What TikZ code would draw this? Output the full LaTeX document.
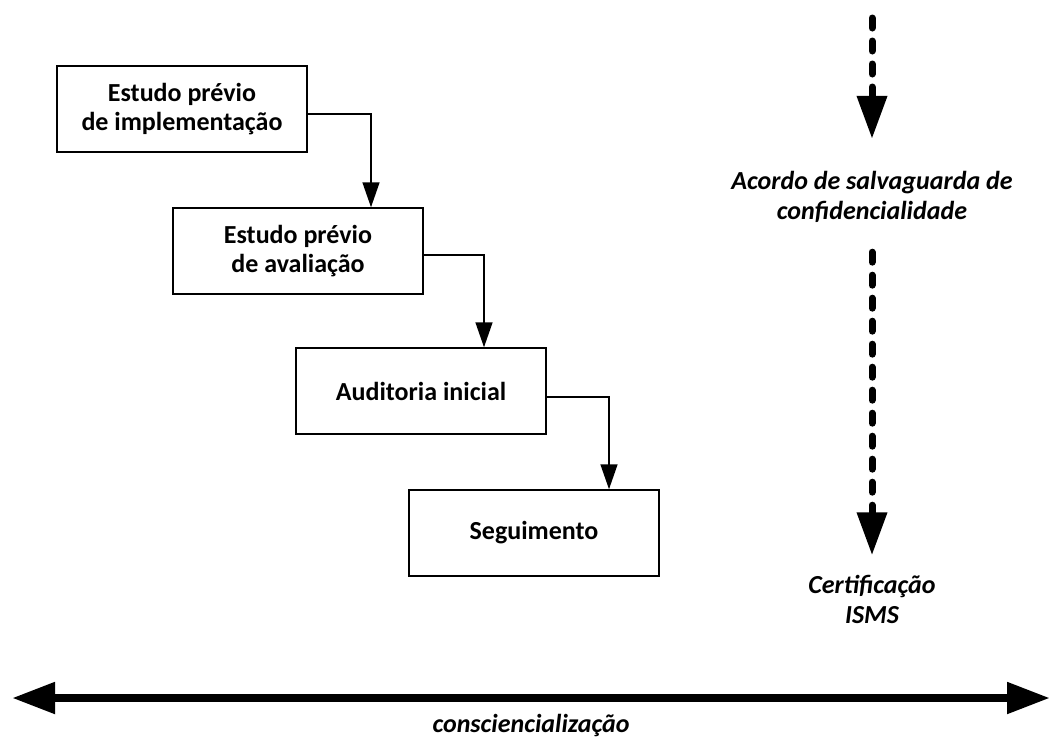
\documentclass[tikz,border=0pt]{standalone}
\usepackage{fontspec}
\setmainfont{Carlito}
\usetikzlibrary{arrows.meta}

\tikzset{
  stage/.style={draw,line width=1.5pt,rectangle,minimum width=250pt,minimum height=86pt,
    align=center,font=\fontsize{26}{29}\selectfont\bfseries},
  milestone/.style={align=center,font=\fontsize{26}{30}\selectfont\bfseries\itshape},
  flow/.style={line width=1.5pt,-{Triangle[width=17pt,length=25pt]}},
  track/.style={line width=7pt,line cap=round,dash pattern=on 10pt off 13pt,
    -{Triangle[width=29pt,length=43pt]}},
  span/.style={line width=8pt,{Triangle[width=30pt,length=43pt]}-{Triangle[width=30pt,length=43pt]}},
}

\begin{document}
\begin{tikzpicture}[x=1pt,y=-1pt]
\useasboundingbox (0,0) rectangle (1056,740);

\node[stage](implement) at (182,109) {Estudo prévio\\de implementação};
\node[stage](evaluate) at (298,251) {Estudo prévio\\de avaliação};
\node[stage](audit) at (421,391) {Auditoria inicial};
\node[stage](follow) at (534,533) {Seguimento};

\draw [flow] ([yshift=-5pt]implement.east) -| ([xshift=73pt]evaluate.north);
\draw [flow] ([yshift=-4pt]evaluate.east) -| ([xshift=63pt]audit.north);
\draw [flow] ([yshift=-6pt]audit.east) -| ([xshift=75pt]follow.north);

% right-hand track
\coordinate (start) at (872,18);
\node[milestone](accord) at (872,197) {Acordo de salvaguarda de\\confidencialidade};
\node[milestone](cert) at (872,599) {Certificação\\ISMS};

\draw [track,shorten >=29pt] (start) -- (accord);
\draw [track,shorten <=26pt,shorten >=16pt] (accord) -- (cert);

% bottom span
\coordinate (left) at (12,698);
\coordinate (right) at (1050,698);
\draw [span] (left) -- (right);
\node[milestone](aware) at (531,725) {consciencialização};

\end{tikzpicture}
\end{document}
